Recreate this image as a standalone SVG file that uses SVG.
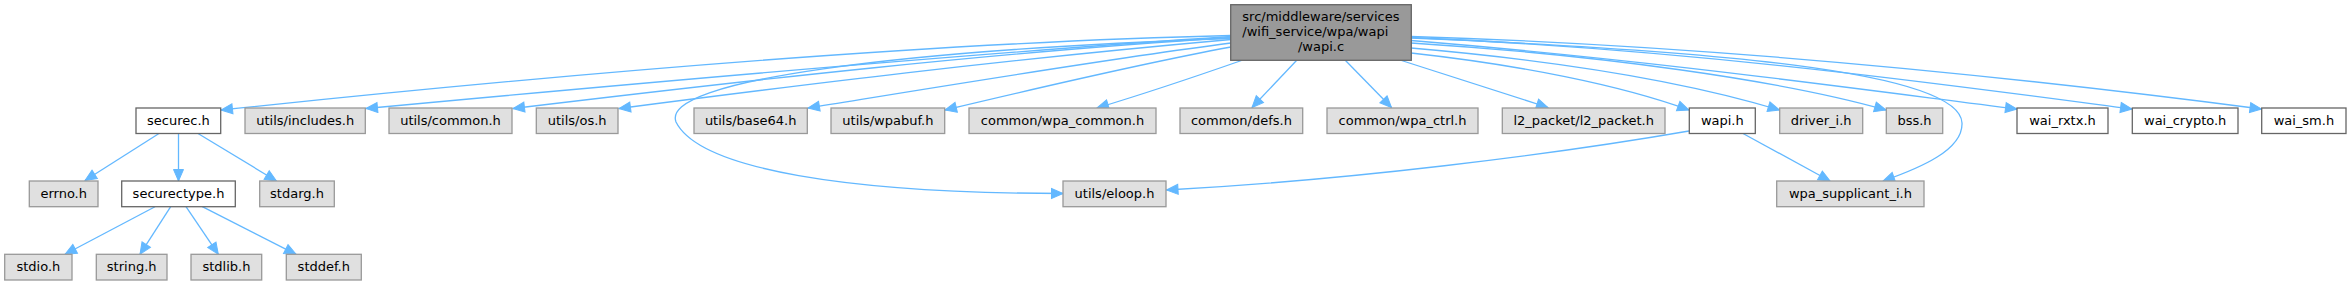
<svg xmlns="http://www.w3.org/2000/svg" width="2351" height="285" viewBox="0 0 2351 285">
<style>
.e{fill:none;stroke:#63b8ff;stroke-width:1.3;marker-end:url(#ah)}
.g rect{fill:#e0e0e0;stroke:#999999;stroke-width:1.3}
.w rect{fill:#ffffff;stroke:#666666;stroke-width:1.3}
.m rect{fill:#999999;stroke:#666666;stroke-width:1.3}
text{font-family:"DejaVu Sans","Liberation Sans",sans-serif;font-size:13px;fill:#000000;text-anchor:middle}
text.s{text-anchor:start}
</style>
<defs>
<marker id="ah" markerUnits="userSpaceOnUse" markerWidth="14" markerHeight="12" refX="11.5" refY="5" orient="auto" overflow="visible">
<path d="M0,0 L11.5,5 L0,10 z" fill="#63b8ff" stroke="#63b8ff" stroke-width="1"/>
</marker>
</defs>
<rect x="0" y="0" width="2351" height="285" fill="#ffffff"/>
<g id="connectors">
<path class="e" d="M1231,35.5 C950,42 600,70 221,110"/>
<path class="e" d="M1231,36.5 C950,55 650,82 366,108.5"/>
<path class="e" d="M1231,37.5 C1000,52 750,80 513,108.5"/>
<path class="e" d="M1231,38.5 C900,50 660,80 676,122 C700,170 850,193 1063,193.5"/>
<path class="e" d="M1231,39.5 C1000,60 800,85 619,108.5"/>
<path class="e" d="M1231,43 C1100,60 950,85 808,108"/>
<path class="e" d="M1231,47 C1150,62 1050,85 945,110"/>
<path class="e" d="M1241.5,60.5 C1200,75 1150,92 1097,108"/>
<path class="e" d="M1296.5,60.5 L1252,107.5"/>
<path class="e" d="M1345.5,60.5 L1391.5,107.5"/>
<path class="e" d="M1401.5,60.5 L1548,107.5"/>
<path class="e" d="M1411,53 C1520,65 1620,85 1689,110"/>
<path class="e" d="M1411,48 C1550,60 1680,80 1779.5,110"/>
<path class="e" d="M1411,43 C1600,55 1780,80 1886,110"/>
<path class="e" d="M1411,40.5 C1650,60 1850,88 2017,109"/>
<path class="e" d="M1411,37.5 C1700,50 1950,85 2132,109"/>
<path class="e" d="M1411,36.5 C1700,45 2000,75 2261.5,109"/>
<path class="e" d="M1411,38 C1700,50 1960,70 1962,123 C1963,150 1920,168 1883,181"/>
<path class="e" d="M1689,131 C1550,155 1350,180 1166.5,190"/>
<path class="e" d="M1743,133.5 L1830,181"/>
<path class="e" d="M159,133.5 L85,180.5"/>
<path class="e" d="M178.5,133.5 L178.5,181"/>
<path class="e" d="M198,133.5 L276.5,181"/>
<path class="e" d="M155,206.7 L65,254.3"/>
<path class="e" d="M170.7,206.7 L140,254.3"/>
<path class="e" d="M186,206.7 L218.3,254.3"/>
<path class="e" d="M202.3,206.7 L296,254.3"/>
</g>
<g id="node-main" class="m"><rect x="1230.7" y="4.7" width="180.6" height="55.6"/><text class="s" x="1242.3" y="20.5">src/middleware/services</text><text class="s" x="1242.3" y="35.7">/wifi_service/wpa/wapi</text><text x="1321" y="50.9">/wapi.c</text></g>
<g id="node-securec" class="w"><rect x="136" y="108" width="84.7" height="25.5"/><text x="178.4" y="124.7">securec.h</text></g>
<g id="node-includes" class="g"><rect x="245" y="108" width="120.3" height="25.5"/><text x="305.2" y="124.7">utils/includes.h</text></g>
<g id="node-common" class="g"><rect x="389" y="108" width="123" height="25.5"/><text x="450.5" y="124.7">utils/common.h</text></g>
<g id="node-os" class="g"><rect x="536.3" y="108" width="81.7" height="25.5"/><text x="577.2" y="124.7">utils/os.h</text></g>
<g id="node-base64" class="g"><rect x="694" y="108" width="113.3" height="25.5"/><text x="750.7" y="124.7">utils/base64.h</text></g>
<g id="node-wpabuf" class="g"><rect x="831" y="108" width="113.7" height="25.5"/><text x="887.9" y="124.7">utils/wpabuf.h</text></g>
<g id="node-wpa_common" class="g"><rect x="969" y="108" width="187" height="25.5"/><text x="1062.5" y="124.7">common/wpa_common.h</text></g>
<g id="node-defs" class="g"><rect x="1180" y="108" width="122.7" height="25.5"/><text x="1241.4" y="124.7">common/defs.h</text></g>
<g id="node-wpa_ctrl" class="g"><rect x="1327" y="108" width="151" height="25.5"/><text x="1402.5" y="124.7">common/wpa_ctrl.h</text></g>
<g id="node-l2_packet" class="g"><rect x="1502.3" y="108" width="162.7" height="25.5"/><text x="1583.7" y="124.7">l2_packet/l2_packet.h</text></g>
<g id="node-wapi_h" class="w"><rect x="1689.3" y="108" width="66" height="25.5"/><text x="1722.3" y="124.7">wapi.h</text></g>
<g id="node-driver_i" class="g"><rect x="1779.7" y="108" width="83" height="25.5"/><text x="1821.2" y="124.7">driver_i.h</text></g>
<g id="node-bss" class="g"><rect x="1886.3" y="108" width="56.4" height="25.5"/><text x="1914.5" y="124.7">bss.h</text></g>
<g id="node-wai_rxtx" class="w"><rect x="2017" y="108" width="91" height="25.5"/><text x="2062.5" y="124.7">wai_rxtx.h</text></g>
<g id="node-wai_crypto" class="w"><rect x="2132.3" y="108" width="105.7" height="25.5"/><text x="2185.2" y="124.7">wai_crypto.h</text></g>
<g id="node-wai_sm" class="w"><rect x="2261.7" y="108" width="84.3" height="25.5"/><text x="2303.9" y="124.7">wai_sm.h</text></g>
<g id="node-errno" class="g"><rect x="29.3" y="181" width="68.7" height="25.7"/><text x="63.7" y="197.8">errno.h</text></g>
<g id="node-securectype" class="w"><rect x="121.7" y="181" width="113.6" height="25.7"/><text x="178.5" y="197.8">securectype.h</text></g>
<g id="node-stdarg" class="g"><rect x="259.7" y="181" width="74.6" height="25.7"/><text x="297" y="197.8">stdarg.h</text></g>
<g id="node-eloop" class="g"><rect x="1063" y="181" width="103" height="25.7"/><text x="1114.5" y="197.8">utils/eloop.h</text></g>
<g id="node-wpa_supplicant_i" class="g"><rect x="1776.7" y="181" width="147.3" height="25.7"/><text x="1850.4" y="197.8">wpa_supplicant_i.h</text></g>
<g id="node-stdio" class="g"><rect x="4.7" y="254.3" width="67.3" height="25.7"/><text x="38.4" y="271.1">stdio.h</text></g>
<g id="node-string" class="g"><rect x="96.3" y="254.3" width="70.7" height="25.7"/><text x="131.7" y="271.1">string.h</text></g>
<g id="node-stdlib" class="g"><rect x="191" y="254.3" width="70.7" height="25.7"/><text x="226.4" y="271.1">stdlib.h</text></g>
<g id="node-stddef" class="g"><rect x="286.3" y="254.3" width="75" height="25.7"/><text x="323.8" y="271.1">stddef.h</text></g>
</svg>
